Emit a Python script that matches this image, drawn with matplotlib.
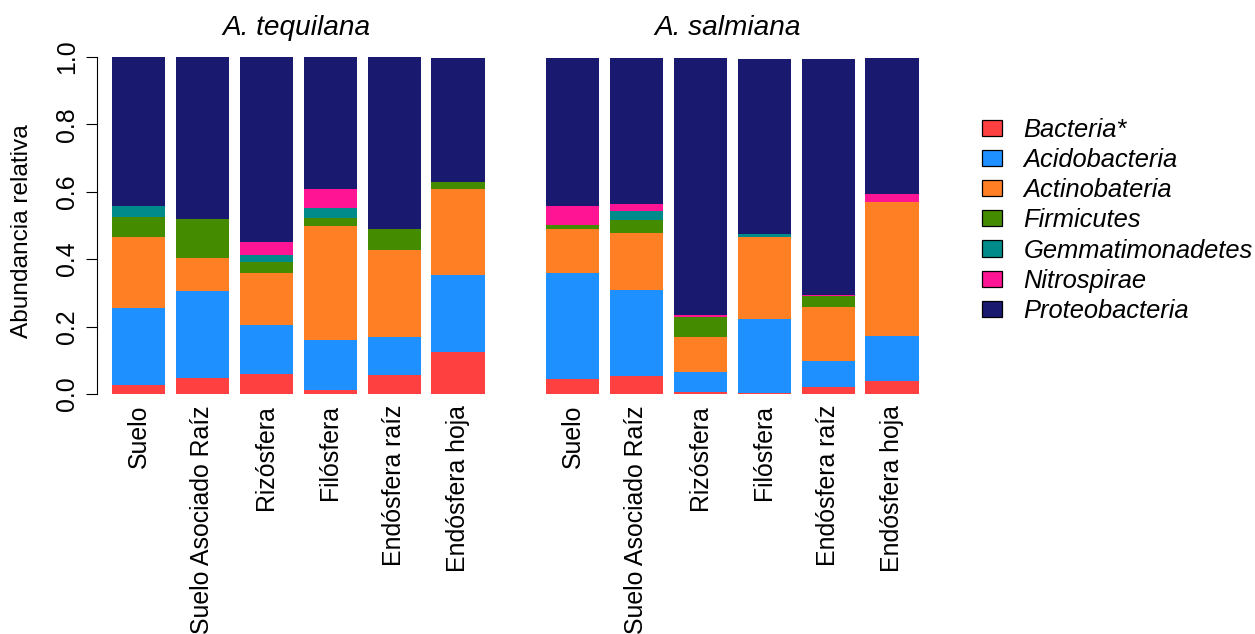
import matplotlib
matplotlib.use("Agg")
import matplotlib.pyplot as plt
from matplotlib.patches import Patch

plt.rcParams["font.family"] = ["Liberation Sans", "DejaVu Sans"]

# Sample types (x axis)
categories = ["Suelo", "Suelo Asociado Raíz", "Rizósfera", "Filósfera",
              "Endósfera raíz", "Endósfera hoja"]

# Phyla, stacked bottom to top
phyla = ["Bacteria*", "Acidobacteria", "Actinobateria", "Firmicutes",
         "Gemmatimonadetes", "Nitrospirae", "Proteobacteria"]
colors = ["#FF4040", "#1E90FF", "#FF7F24", "#458B00",
          "#008B8B", "#FF1493", "#191970"]

# Relative abundances, A. tequilana
teq_bacteria = [0.027, 0.048, 0.060, 0.013, 0.056, 0.125]
teq_acido    = [0.229, 0.257, 0.145, 0.148, 0.114, 0.228]
teq_actino   = [0.209, 0.098, 0.154, 0.337, 0.257, 0.255]
teq_firmi    = [0.060, 0.116, 0.033, 0.025, 0.062, 0.020]
teq_gemma    = [0.032, 0.000, 0.020, 0.029, 0.000, 0.000]
teq_nitro    = [0.000, 0.000, 0.040, 0.056, 0.000, 0.000]
teq_proteo   = [0.443, 0.481, 0.548, 0.392, 0.511, 0.368]

# Relative abundances, A. salmiana
sal_bacteria = [0.045, 0.053, 0.005, 0.004, 0.022, 0.040]
sal_acido    = [0.315, 0.255, 0.061, 0.219, 0.077, 0.133]
sal_actino   = [0.130, 0.170, 0.104, 0.243, 0.160, 0.396]
sal_firmi    = [0.012, 0.038, 0.059, 0.000, 0.032, 0.000]
sal_gemma    = [0.000, 0.027, 0.000, 0.008, 0.000, 0.000]
sal_nitro    = [0.055, 0.020, 0.006, 0.000, 0.004, 0.024]
sal_proteo   = [0.439, 0.433, 0.761, 0.519, 0.699, 0.403]

teq = [teq_bacteria, teq_acido, teq_actino, teq_firmi, teq_gemma, teq_nitro, teq_proteo]
sal = [sal_bacteria, sal_acido, sal_actino, sal_firmi, sal_gemma, sal_nitro, sal_proteo]

W, H = 1255, 634
fig = plt.figure(figsize=(W / 100, H / 100), dpi=100)

FS = 17.9
x = [0.7 + 1.2 * i for i in range(len(categories))]

ax_bottom = (H - 400.75) / H
ax_height = 357.5 / H
ax_width = 402.6 / W
axL = fig.add_axes([97 / W, ax_bottom, ax_width, ax_height])
axR = fig.add_axes([531 / W, ax_bottom, ax_width, ax_height])


def stacked(ax, series, title, title_x):
    base = [0.0] * len(categories)
    for vals, col in zip(series, colors):
        ax.bar(x, vals, width=1.0, bottom=base, color=col, linewidth=0)
        base = [b + v for b, v in zip(base, vals)]
    ax.set_xlim(-0.08, 7.48)
    ax.set_ylim(-0.02, 1.04)
    for s in ("top", "right", "bottom"):
        ax.spines[s].set_visible(False)
    ax.set_xticks(x, categories)
    ax.tick_params(axis="x", length=0, pad=3.0, labelsize=FS, labelrotation=90)
    ax.set_title(title, fontsize=20.2, style="italic", x=title_x, pad=5.9)


stacked(axL, teq, "A. tequilana", 0.4955)
stacked(axR, sal, "A. salmiana", 0.488)

# y axis only on the left panel
axL.spines["left"].set_bounds(0, 1)
axL.spines["left"].set_linewidth(0.8)
axL.set_yticks([0.0, 0.2, 0.4, 0.6, 0.8, 1.0], ["0.0", "0.2", "0.4", "0.6", "0.8", "1.0"])
axL.tick_params(axis="y", length=7.7, width=0.8, pad=5.3, labelsize=FS, labelrotation=90)
for lab in axL.get_yticklabels():
    lab.set_va("center")

axR.spines["left"].set_visible(False)
axR.set_yticks([])

fig.text(22 / W, 1 - 231 / H, "Abundancia relativa", rotation=90,
         ha="center", va="center", fontsize=17.6)

LFS = 18.4
handles = [Patch(facecolor=c, edgecolor="black", linewidth=0.9) for c in colors]
leg = fig.legend(handles, phyla, loc="upper left",
                 bbox_to_anchor=(982 / W, 1 - 118 / H),
                 frameon=False, prop={"style": "italic", "size": LFS},
                 handlelength=0.78, handleheight=0.59, handletextpad=0.84,
                 labelspacing=0.24, borderpad=0, borderaxespad=0)

fig.savefig("out.png", dpi=100)
